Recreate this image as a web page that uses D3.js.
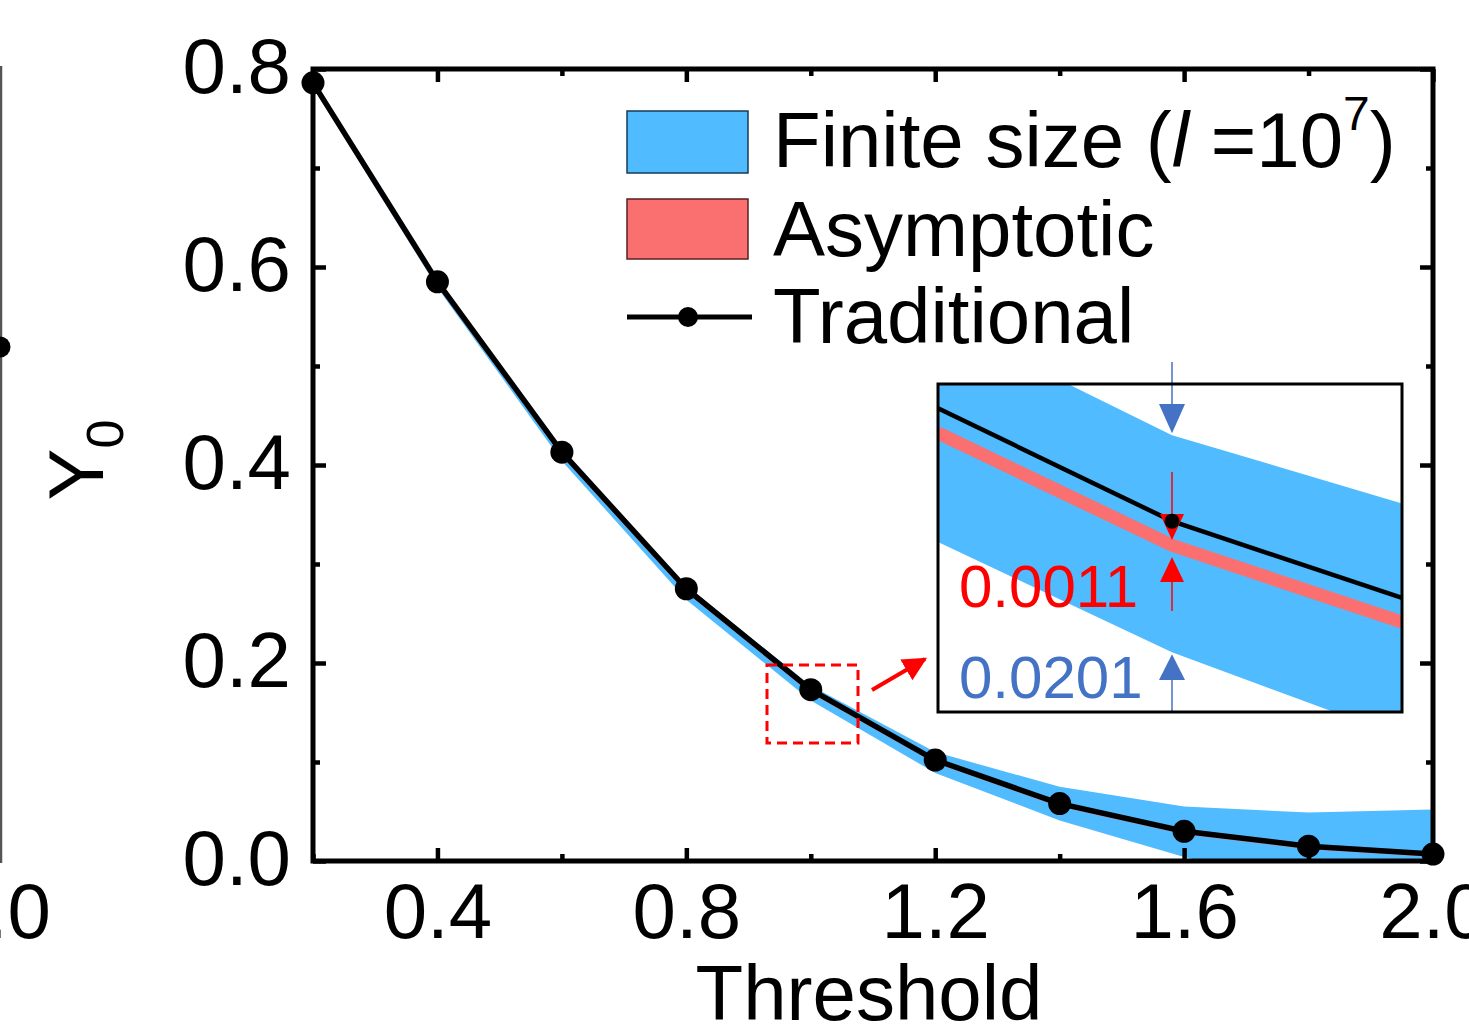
<!DOCTYPE html>
<html>
<head>
<meta charset="utf-8">
<script src="https://cdn.jsdelivr.net/npm/d3@7"></script>
<style>
html,body{margin:0;padding:0;background:#fff;}
svg{display:block;}
text{font-family:"Liberation Sans",Arial,sans-serif;}
</style>
</head>
<body>
<svg id="chart" width="1469" height="1028"></svg>
<script>
// ---------- data ----------
const thresholds   = [0.2, 0.4, 0.6, 0.8, 1.0, 1.2, 1.4, 1.6, 1.8, 2.0];
const traditional  = [0.786, 0.585, 0.413, 0.275, 0.173, 0.102, 0.058, 0.030, 0.015, 0.007];
const asymptotic   = [0.785, 0.584, 0.412, 0.274, 0.172, 0.101, 0.057, 0.029, 0.014, 0.006];
const finiteUpper  = [0.787, 0.588, 0.416, 0.278, 0.177, 0.110, 0.075, 0.055, 0.049, 0.052];
const finiteLower  = [0.781, 0.579, 0.404, 0.264, 0.162, 0.089, 0.041, 0.004, -0.025, -0.040];

const xMajorTicks = [0.4, 0.8, 1.2, 1.6, 2.0];
const xMinorTicks = [0.2, 0.6, 1.0, 1.4, 1.8];
const yMajorTicks = [0.0, 0.2, 0.4, 0.6, 0.8];
const yMinorTicks = [0.1, 0.3, 0.5, 0.7];

// inset (zoom around threshold = 1.0)
const insetX      = [0.93, 1.0, 1.0688];
const insetTrad   = [0.1950, 0.1740, 0.1597];
const insetAsym   = [0.1904, 0.1695, 0.1552];
const insetUpper  = [0.2114, 0.1900, 0.1773];
const insetLower  = [0.1701, 0.1496, 0.1338];
const insetGapLabel  = "0.0011";
const insetBandLabel = "0.0201";

const legendLabels = ["Finite size", "Asymptotic", "Traditional"];

// ---------- styles ----------
const BLUE = "#50BBFE", RED = "#FA6F6F", ARROW_BLUE = "#4472C4";
const FS = 78;

const svg = d3.select("#chart");
const pL = 313, pR = 1433, pT = 69, pB = 861;

const x = d3.scaleLinear().domain([0.2, 2.0]).range([pL, pR]);
const y = d3.scaleLinear().domain([0, 0.8]).range([pB, pT]);

const main = thresholds.map((t, i) => ({t, trad: traditional[i], asym: asymptotic[i], up: finiteUpper[i], lo: finiteLower[i]}));

// ---------- partial neighbouring panel (cut at left edge) ----------
svg.append("line").attr("x1", 1).attr("x2", 1).attr("y1", 66).attr("y2", 863)
   .attr("stroke", "#555").attr("stroke-width", 2.5);
svg.append("circle").attr("cx", 0).attr("cy", 347).attr("r", 10.5).attr("fill", "#000");
svg.append("text").attr("x", 51).attr("y", 938).attr("text-anchor", "end")
   .attr("font-size", FS).text("1.0");

// ---------- clip ----------
const defs = svg.append("defs");
defs.append("clipPath").attr("id", "plotClip").append("rect")
   .attr("x", pL).attr("y", pT).attr("width", pR - pL).attr("height", pB - pT);

// ---------- band ----------
const g = svg.append("g").attr("clip-path", "url(#plotClip)");
g.append("path").datum(main)
  .attr("d", d3.area().x(d => x(d.t)).y0(d => y(d.lo)).y1(d => y(d.up)))
  .attr("fill", BLUE);
g.append("path").datum(main)
  .attr("d", d3.line().x(d => x(d.t)).y(d => y(d.asym)))
  .attr("fill", "none").attr("stroke", RED).attr("stroke-width", 4);

// ---------- axes ----------
function fmt(d){ return d3.format(".1f")(d); }
const axB = svg.append("g").attr("transform", `translate(0,${pB})`)
  .call(d3.axisBottom(x).tickValues(xMajorTicks).tickSize(-13).tickFormat(fmt));
const axBm = svg.append("g").attr("transform", `translate(0,${pB})`)
  .call(d3.axisBottom(x).tickValues(xMinorTicks).tickSize(-7).tickFormat(""));
const axT = svg.append("g").attr("transform", `translate(0,${pT})`)
  .call(d3.axisTop(x).tickValues(xMajorTicks).tickSize(-13).tickFormat(""));
const axTm = svg.append("g").attr("transform", `translate(0,${pT})`)
  .call(d3.axisTop(x).tickValues(xMinorTicks).tickSize(-7).tickFormat(""));
const axL = svg.append("g").attr("transform", `translate(${pL},0)`)
  .call(d3.axisLeft(y).tickValues(yMajorTicks).tickSize(-13).tickFormat(fmt));
const axLm = svg.append("g").attr("transform", `translate(${pL},0)`)
  .call(d3.axisLeft(y).tickValues(yMinorTicks).tickSize(-7).tickFormat(""));
const axR = svg.append("g").attr("transform", `translate(${pR},0)`)
  .call(d3.axisRight(y).tickValues(yMajorTicks).tickSize(-13).tickFormat(""));
const axRm = svg.append("g").attr("transform", `translate(${pR},0)`)
  .call(d3.axisRight(y).tickValues(yMinorTicks).tickSize(-7).tickFormat(""));

[axB, axBm, axT, axTm, axL, axLm, axR, axRm].forEach(a => {
  a.select(".domain").remove();
  a.selectAll(".tick line").attr("stroke", "#000").attr("stroke-width", 4.5);
  a.selectAll(".tick text").attr("font-size", FS).attr("fill", "#000")
   .attr("font-family", '"Liberation Sans", Arial, sans-serif');
});
axB.selectAll(".tick text").attr("dy", 0).attr("y", 77);
axL.selectAll(".tick text").attr("dy", 0).attr("y", 23).attr("x", -22);

// frame
svg.append("rect").attr("x", pL).attr("y", pT).attr("width", pR - pL).attr("height", pB - pT)
   .attr("fill", "none").attr("stroke", "#000").attr("stroke-width", 5);

// ---------- traditional line + dots ----------
svg.append("path").datum(main)
  .attr("d", d3.line().x(d => x(d.t)).y(d => y(d.trad)))
  .attr("fill", "none").attr("stroke", "#000").attr("stroke-width", 5.5).attr("stroke-linejoin", "round");
svg.selectAll("circle.pt").data(main).join("circle").attr("class", "pt")
  .attr("cx", d => x(d.t)).attr("cy", d => y(d.trad)).attr("r", 11.5).attr("fill", "#000");

// ---------- axis titles ----------
svg.append("text").attr("x", 869).attr("y", 1020).attr("text-anchor", "middle")
   .attr("font-size", FS).text("Threshold");
const yl = svg.append("text").attr("transform", "translate(103,460) rotate(-90)")
   .attr("text-anchor", "middle").attr("font-size", FS);
yl.append("tspan").text("Y");
yl.append("tspan").attr("font-size", 52).attr("dy", 20).text("0");

// ---------- legend ----------
const lg = svg.append("g");
lg.append("rect").attr("x", 627).attr("y", 111).attr("width", 121).attr("height", 62)
  .attr("fill", BLUE).attr("stroke", "#1a3a55").attr("stroke-width", 1.5);
lg.append("rect").attr("x", 627).attr("y", 199).attr("width", 121).attr("height", 60)
  .attr("fill", RED).attr("stroke", "#5a2020").attr("stroke-width", 1.5);
lg.append("line").attr("x1", 627).attr("x2", 752).attr("y1", 317).attr("y2", 317)
  .attr("stroke", "#000").attr("stroke-width", 5);
lg.append("circle").attr("cx", 688).attr("cy", 317).attr("r", 10).attr("fill", "#000");

const t1 = lg.append("text").attr("x", 773).attr("y", 167).attr("font-size", FS);
t1.append("tspan").text(legendLabels[0] + " (");
t1.append("tspan").attr("font-style", "italic").text("l");
t1.append("tspan").text(" =10");
t1.append("tspan").attr("font-size", 48).attr("dy", -37).text("7");
t1.append("tspan").attr("dy", 37).text(")");
lg.append("text").attr("x", 773).attr("y", 256).attr("font-size", FS).text(legendLabels[1]);
lg.append("text").attr("x", 773).attr("y", 343).attr("font-size", FS).text(legendLabels[2]);

// ---------- zoom box + arrow ----------
svg.append("rect").attr("x", 767).attr("y", 665).attr("width", 91).attr("height", 78)
  .attr("fill", "none").attr("stroke", "#FF0000").attr("stroke-width", 3).attr("stroke-dasharray", "10,6");
defs.append("marker").attr("id", "ahRed").attr("viewBox", "0 0 10 10").attr("refX", 9).attr("refY", 5)
  .attr("markerWidth", 6).attr("markerHeight", 6).attr("orient", "auto").attr("markerUnits", "strokeWidth")
  .append("path").attr("d", "M0,0 L10,5 L0,10 Z").attr("fill", "#FF0000");
svg.append("line").attr("x1", 872).attr("y1", 690).attr("x2", 925).attr("y2", 659)
  .attr("stroke", "#FF0000").attr("stroke-width", 4).attr("marker-end", "url(#ahRed)");

// ---------- inset ----------
const iL = 938, iR = 1402, iT = 384, iB = 712;
const xi = d3.scaleLinear().domain([0.93, 1.0688]).range([iL, iR]);
const yi = d3.scaleLinear().domain([0.1383, 0.1997]).range([713, 383]);
const ins = insetX.map((t, i) => ({t, trad: insetTrad[i], asym: insetAsym[i], up: insetUpper[i], lo: insetLower[i]}));

defs.append("clipPath").attr("id", "insetClip").append("rect")
  .attr("x", iL).attr("y", iT).attr("width", iR - iL).attr("height", iB - iT);
svg.append("rect").attr("x", iL).attr("y", iT).attr("width", iR - iL).attr("height", iB - iT).attr("fill", "#fff");
const gi = svg.append("g").attr("clip-path", "url(#insetClip)");
gi.append("path").datum(ins)
  .attr("d", d3.area().x(d => xi(d.t)).y0(d => yi(d.lo)).y1(d => yi(d.up)))
  .attr("fill", BLUE);
gi.append("path").datum(ins)
  .attr("d", d3.line().x(d => xi(d.t)).y(d => yi(d.asym)))
  .attr("fill", "none").attr("stroke", RED).attr("stroke-width", 13);
gi.append("path").datum(ins)
  .attr("d", d3.line().x(d => xi(d.t)).y(d => yi(d.trad)))
  .attr("fill", "none").attr("stroke", "#000").attr("stroke-width", 4.5);

const cx = xi(1.0);
// blue arrows (band half-width)
svg.append("line").attr("x1", cx).attr("x2", cx).attr("y1", 362).attr("y2", 405)
  .attr("stroke", ARROW_BLUE).attr("stroke-width", 1.5);
svg.append("path").attr("d", `M${cx-13},${404} L${cx+13},${404} L${cx},${yi(insetUpper[1])-2} Z`).attr("fill", ARROW_BLUE);
svg.append("line").attr("x1", cx).attr("x2", cx).attr("y1", 678).attr("y2", iB)
  .attr("stroke", ARROW_BLUE).attr("stroke-width", 1.5);
svg.append("path").attr("d", `M${cx-13},${680} L${cx+13},${680} L${cx},${yi(insetLower[1])+2} Z`).attr("fill", ARROW_BLUE);
// red arrows (gap)
svg.append("line").attr("x1", cx).attr("x2", cx).attr("y1", 472).attr("y2", 516)
  .attr("stroke", "#FF0000").attr("stroke-width", 1.5);
svg.append("path").attr("d", `M${cx-12},${514} L${cx+12},${514} L${cx},${540} Z`).attr("fill", "#FF0000");
svg.append("line").attr("x1", cx).attr("x2", cx).attr("y1", 580).attr("y2", 611)
  .attr("stroke", "#FF0000").attr("stroke-width", 1.5);
svg.append("path").attr("d", `M${cx-12},${582} L${cx+12},${582} L${cx},${557} Z`).attr("fill", "#FF0000");

// inset dot
svg.append("circle").attr("cx", cx).attr("cy", yi(insetTrad[1])).attr("r", 7.5).attr("fill", "#000");

svg.append("text").attr("x", 959).attr("y", 607).attr("font-size", 60).attr("fill", "#FF0000").text(insetGapLabel);
svg.append("text").attr("x", 959).attr("y", 698).attr("font-size", 60).attr("fill", ARROW_BLUE).text(insetBandLabel);

svg.append("rect").attr("x", iL).attr("y", iT).attr("width", iR - iL).attr("height", iB - iT)
  .attr("fill", "none").attr("stroke", "#000").attr("stroke-width", 3);
</script>
</body>
</html>
